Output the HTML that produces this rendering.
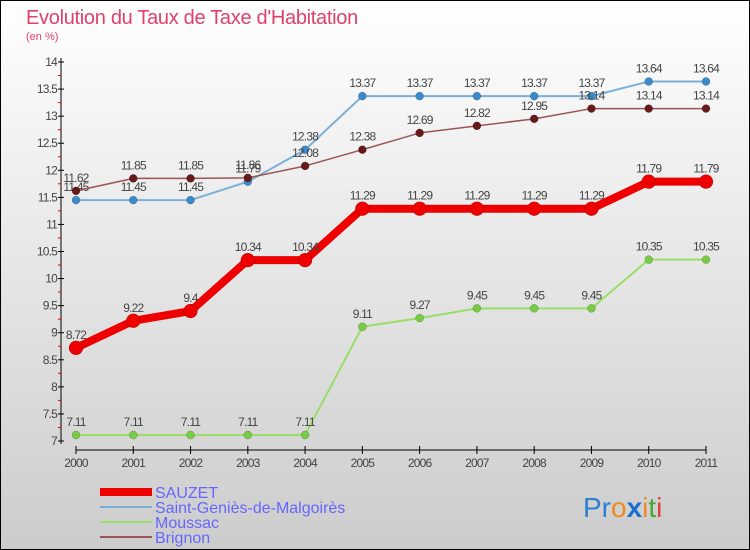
<!DOCTYPE html>
<html><head><meta charset="utf-8"><style>
body{margin:0;}
#wrap{width:750px;height:550px;position:relative;overflow:hidden;font-family:"Liberation Sans","DejaVu Sans",sans-serif;}
</style></head><body>
<div id="wrap">
<svg id="svg" width="750" height="550" xmlns="http://www.w3.org/2000/svg">
<defs><linearGradient id="bg" x1="0" y1="0" x2="0" y2="1"><stop offset="0" stop-color="#ffffff"/><stop offset="1" stop-color="#cccccc"/></linearGradient></defs>
<rect x="0.5" y="0.5" width="749" height="549" fill="url(#bg)" stroke="#000"/>
<text x="26" y="24" font-size="20" fill="#e0406a" style="letter-spacing:-0.3px">Evolution du Taux de Taxe d'Habitation</text>
<text x="26" y="40" font-size="11" fill="#e0406a">(en %)</text>
<g id="axes"></g><g id="series"></g>
<g>
<line x1="100" y1="492" x2="152" y2="492" stroke="#ee0000" stroke-width="8"/>
<text x="155" y="498" font-size="16" fill="#6666ff">SAUZET</text>
<line x1="100" y1="507" x2="152" y2="507" stroke="#7ab0d8" stroke-width="2"/>
<text x="155" y="513" font-size="16" fill="#6666ff">Saint-Geniès-de-Malgoirès</text>
<line x1="100" y1="522" x2="152" y2="522" stroke="#99dd66" stroke-width="2"/>
<text x="155" y="528" font-size="16" fill="#6666ff">Moussac</text>
<line x1="100" y1="537" x2="152" y2="537" stroke="#995555" stroke-width="2"/>
<text x="155" y="543" font-size="16" fill="#6666ff">Brignon</text>
</g>
<text x="583" y="517" font-size="28"><tspan fill="#2a7fd0">Pr</tspan><tspan fill="#f08a20">o</tspan><tspan fill="#1a6fd0" font-weight="bold">x</tspan><tspan fill="#f08a20">i</tspan><tspan fill="#44aa33">t</tspan><tspan fill="#e04040">i</tspan></text>
</svg></div>
<script>
const years=["2000","2001","2002","2003","2004","2005","2006","2007","2008","2009","2010","2011"];
const sauzet=[8.72,9.22,9.4,10.34,10.34,11.29,11.29,11.29,11.29,11.29,11.79,11.79];
const stGenies=[11.45,11.45,11.45,11.79,12.38,13.37,13.37,13.37,13.37,13.37,13.64,13.64];
const moussac=[7.11,7.11,7.11,7.11,7.11,9.11,9.27,9.45,9.45,9.45,10.35,10.35];
const brignon=[11.62,11.85,11.85,11.86,12.08,12.38,12.69,12.82,12.95,13.14,13.14,13.14];
const yTicks=[7,7.5,8,8.5,9,9.5,10,10.5,11,11.5,12,12.5,13,13.5,14];
const NS="http://www.w3.org/2000/svg";
const xs=i=>76+i*(706-76)/11;
const ys=v=>441-(v-7)*(441-62)/7;
function mk(t,a,p){const e=document.createElementNS(NS,t);for(const k in a)e.setAttribute(k,a[k]);p.appendChild(e);return e;}
const ax=document.getElementById('axes'),sg=document.getElementById('series');
let l=mk('line',{x1:61,y1:58,x2:61,y2:444,stroke:'#000'},ax);


yTicks.forEach(v=>{
 const y=ys(v);
 mk('line',{x1:58,y1:y,x2:64,y2:y,stroke:'#000'},ax);
 if(v<14) mk('line',{x1:58,y1:ys(v+0.25),x2:61,y2:ys(v+0.25),stroke:'#e00'},ax);
 const t=mk('text',{x:57,y:y+4,'font-size':12,fill:'#444','text-anchor':'end','letter-spacing':'-0.8'},ax);
 t.textContent=String(v);
 
 
});
l=mk('line',{x1:76,y1:450,x2:706,y2:450,stroke:'#000'},ax);


years.forEach((yr,i)=>{
 const x=xs(i);
 mk('line',{x1:x,y1:446,x2:x,y2:454,stroke:'#000'},ax);
 const t=mk('text',{x:x,y:467,'font-size':12,fill:'#444','text-anchor':'middle','letter-spacing':'-0.8'},ax);
 t.textContent=yr;
 
 
});
function series(data,name,color,w,r,mcol){
 const g=mk('g',{},sg);
 
 
 const p=mk('polyline',{points:data.map((v,i)=>xs(i)+','+ys(v)).join(' '),fill:'none',stroke:color,'stroke-width':w,'stroke-linejoin':'round'},g);
 
 
 data.forEach((v,i)=>{
  const c=mk('circle',{cx:xs(i),cy:ys(v),r:r,fill:mcol,stroke:'rgba(0,0,0,0.3)','stroke-width':0.5},g);
  
  
  const t=mk('text',{x:xs(i),y:ys(v)-9,'font-size':12,fill:'#444','text-anchor':'middle','letter-spacing':'-0.8'},g);
  t.textContent=String(v);
  
  
 });
}
series(moussac,'moussac','#99dd66',2,4,'#77cc44');
series(stGenies,'st-genies','#7ab0d8',2,4,'#3a8acc');
series(brignon,'brignon','#995555',1.5,4,'#661a1a');
series(sauzet,'sauzet','#ee0000',8,7,'#ee0000');
</script>
</body></html>
